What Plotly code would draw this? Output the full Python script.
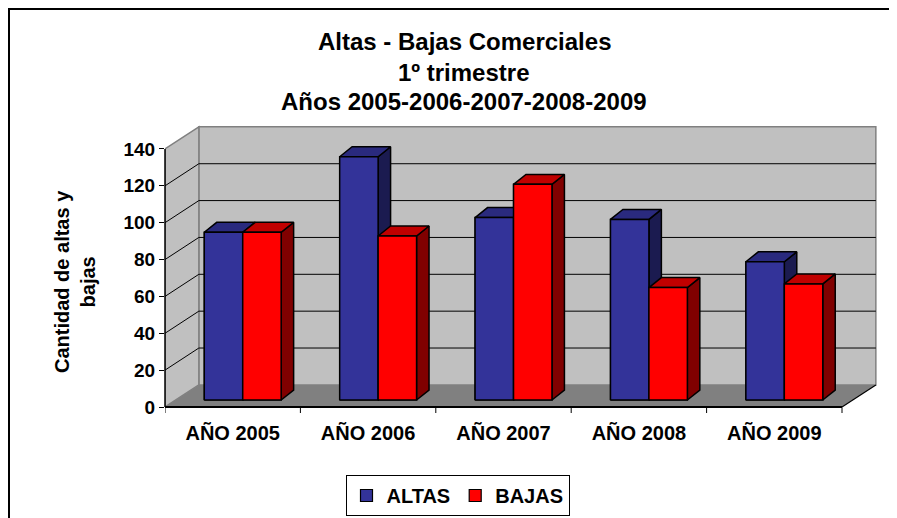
import plotly.graph_objects as go

# ---------------- data ----------------
categories = ["AÑO 2005", "AÑO 2006", "AÑO 2007", "AÑO 2008", "AÑO 2009"]
altas = [91, 132, 99, 98, 75]
bajas = [91, 89, 117, 61, 63]
series_names = ["ALTAS", "BAJAS"]
y_ticks = [0, 20, 40, 60, 80, 100, 120, 140]
title_lines = ["Altas - Bajas Comerciales", "1º trimestre", "Años 2005-2006-2007-2008-2009"]
y_title = "Cantidad de altas y<br>bajas"

# ---------------- geometry / style constants ----------------
OFF = 8                     # page body margin (screen = figure + OFF)
W, H = 897 - OFF, 518 - OFF
SX0, SX1 = 165, 879         # plot area on screen (x)
SY0, SY1 = 124, 407         # plot area on screen (y)
ML, MR = SX0 - OFF, W - (SX1 - OFF)
MT, MB = SY0 - OFF, H - (SY1 - OFF)
UNIT_PX = 135.4             # px per category
VAL_PX = 1.843              # px per value unit
PW = W - ML - MR
PH = H - MT - MB
XMIN = -0.5
XMAX = XMIN + PW / UNIT_PX
YMAX = PH / VAL_PX
VMAX = 140

DX, DY = 0.25, 12.0              # depth of floor/walls (x units, value units)
BAR_W = 0.284
PAIR_SHIFT = 0.074
BAR_BASE = 3.8
BDX, BDY = 0.092, 5.4            # bar depth

FONT = "Arial, Liberation Sans, sans-serif"
WALL = "#C0C0C0"
FLOOR = "#808080"
EDGE = "#808080"
cols = {
    "ALTAS": ("#333399", "#2A2A7E", "#1B1B50"),
    "BAJAS": ("#FF0000", "#C00000", "#800000"),
}

def sx(px):   # screen x -> paper
    return (px - OFF - ML) / PW

def sy(py):   # screen y -> paper
    return (H - MB - (py - OFF)) / PH

fig = go.Figure()

# legend/data bars (underneath the 3D faces)
for name, vals, off in [("ALTAS", altas, -BAR_W), ("BAJAS", bajas, 0.0)]:
    fig.add_trace(go.Bar(
        x=[i + PAIR_SHIFT for i in range(len(categories))], y=vals,
        base=BAR_BASE, offset=off, width=BAR_W, name=name,
        marker=dict(color=cols[name][0], line=dict(color="black", width=1.2)),
        hoverinfo="skip",
    ))

def faces(vals, off):
    fr, tp, sd = ([], []), ([], []), ([], [])
    for i, v in enumerate(vals):
        xl = i + PAIR_SHIFT + off
        xr = xl + BAR_W
        yb = BAR_BASE
        yt = BAR_BASE + v
        for poly, pts in (
            (fr, [(xl, yb), (xr, yb), (xr, yt), (xl, yt), (xl, yb)]),
            (tp, [(xl, yt), (xr, yt), (xr + BDX, yt + BDY), (xl + BDX, yt + BDY), (xl, yt)]),
            (sd, [(xr, yb), (xr + BDX, yb + BDY), (xr + BDX, yt + BDY), (xr, yt), (xr, yb)]),
        ):
            poly[0].extend([p[0] for p in pts] + [None])
            poly[1].extend([p[1] for p in pts] + [None])
    return fr, tp, sd

for name, vals, off in [("ALTAS", altas, -BAR_W), ("BAJAS", bajas, 0.0)]:
    fr, tp, sd = faces(vals, off)
    for poly, colr in ((sd, cols[name][2]), (tp, cols[name][1]), (fr, cols[name][0])):
        fig.add_trace(go.Scatter(
            x=poly[0], y=poly[1], mode="lines", fill="toself", fillcolor=colr,
            line=dict(color="black", width=1.5), hoverinfo="skip", showlegend=False,
        ))

shapes = []
# floor
shapes.append(dict(type="path", xref="x", yref="y", layer="below",
                   path=f"M{XMIN},0 L{XMIN+5},0 L{XMIN+5+DX},{DY} L{XMIN+DX},{DY} Z",
                   fillcolor=FLOOR, line=dict(width=0)))
# back wall
shapes.append(dict(type="rect", xref="x", yref="y", layer="below",
                   x0=XMIN + DX, x1=XMIN + 5 + DX, y0=DY, y1=VMAX + DY,
                   fillcolor=WALL, line=dict(color=EDGE, width=1.5)))
# side wall
shapes.append(dict(type="path", xref="x", yref="y", layer="below",
                   path=f"M{XMIN},0 L{XMIN},{VMAX} L{XMIN+DX},{VMAX+DY} L{XMIN+DX},{DY} Z",
                   fillcolor=WALL, line=dict(color=EDGE, width=1.5)))
# gridlines
for v in y_ticks[1:-1]:
    shapes.append(dict(type="line", xref="x", yref="y", layer="below",
                       x0=XMIN + DX, x1=XMIN + 5 + DX, y0=v + DY, y1=v + DY,
                       line=dict(color="black", width=1)))
    shapes.append(dict(type="line", xref="x", yref="y", layer="below",
                       x0=XMIN, x1=XMIN + DX, y0=v, y1=v + DY,
                       line=dict(color="black", width=1)))
# floor right edge
shapes.append(dict(type="line", xref="x", yref="y", layer="above",
                   x0=XMIN + 5, x1=XMIN + 5 + DX, y0=0, y1=DY,
                   line=dict(color="black", width=1.2)))
# x axis front line
shapes.append(dict(type="line", xref="x", yref="paper", layer="above",
                   x0=XMIN, x1=XMIN + 5, y0=0, y1=0, line=dict(color="black", width=2)))
# x tick marks at category boundaries
for k in range(len(categories) + 1):
    shapes.append(dict(type="line", xref="x", yref="paper", ysizemode="pixel", yanchor=0,
                       x0=XMIN + k, x1=XMIN + k, y0=0, y1=-6,
                       line=dict(color="black", width=1)))
# y axis line (front)
shapes.append(dict(type="line", xref="paper", yref="y", layer="above",
                   x0=0, x1=0, y0=0, y1=VMAX, line=dict(color="black", width=1.5)))
# chart border (left and top edges visible)
shapes.append(dict(type="rect", xref="paper", yref="paper",
                   x0=sx(9), x1=sx(920), y0=sy(560), y1=sy(9),
                   line=dict(color="black", width=2), fillcolor="rgba(0,0,0,0)"))

annotations = []
for txt, py in zip(title_lines, [42, 72, 101]):
    annotations.append(dict(text=txt, xref="paper", yref="paper",
                            x=sx(464), y=sy(py),
                            xanchor="center", yanchor="middle", showarrow=False,
                            font=dict(family=FONT, size=24, color="black", weight="bold")))
annotations.append(dict(text=y_title, xref="paper", yref="paper",
                        x=sx(75), y=sy(282),
                        xanchor="center", yanchor="middle", showarrow=False, textangle=-90,
                        font=dict(family=FONT, size=20, color="black", weight="bold")))

fig.update_layout(
    width=W, height=H,
    margin=dict(l=ML, r=MR, t=MT, b=MB, pad=0, autoexpand=False),
    paper_bgcolor="white", plot_bgcolor="white",
    barmode="overlay",
    showlegend=True,
    legend=dict(orientation="h", x=sx(457.5), y=sy(475),
                xanchor="center", yanchor="top",
                bordercolor="black", borderwidth=1, bgcolor="white",
                font=dict(family=FONT, size=20, color="black", weight="bold"),
                itemclick=False, itemdoubleclick=False),
    xaxis=dict(range=[XMIN, XMAX], tickmode="array",
               tickvals=list(range(len(categories))), ticktext=categories,
               showgrid=False, zeroline=False, showline=False, ticks="",
               ticklabelstandoff=12, automargin=False,
               tickfont=dict(family=FONT, size=20, color="black", weight="bold"),
               fixedrange=True),
    yaxis=dict(range=[0, YMAX], tickmode="array", tickvals=y_ticks,
               showgrid=False, zeroline=False, showline=False, automargin=False,
               ticks="outside", ticklen=5, tickcolor="black", tickwidth=1,
               tickfont=dict(family=FONT, size=19, color="black", weight="bold"),
               fixedrange=True),
    shapes=shapes,
    annotations=annotations,
)

fig.write_html("out.html")
